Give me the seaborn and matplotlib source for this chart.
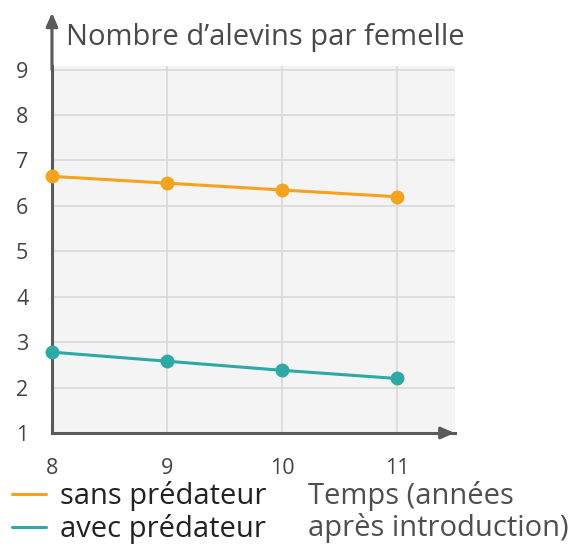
import matplotlib
matplotlib.use("Agg")
import matplotlib.pyplot as plt
import seaborn as sns
import pandas as pd
from matplotlib.lines import Line2D

years = [8, 9, 10, 11]
sans_predateur = [6.65, 6.5, 6.35, 6.2]
avec_predateur = [2.78, 2.58, 2.38, 2.2]
series_names = ["sans prédateur", "avec prédateur"]
colors = ["#F5A31C", "#2BAAA6"]
y_ticks = [1, 2, 3, 4, 5, 6, 7, 8, 9]

df = pd.DataFrame({
    "year": years * 2,
    "value": sans_predateur + avec_predateur,
    "serie": [series_names[0]] * 4 + [series_names[1]] * 4,
})

sns.set_style("white")
plt.rcParams["font.family"] = ["Open Sans", "DejaVu Sans"]

fig = plt.figure(figsize=(5.86, 5.47), dpi=100)
ax = fig.add_axes([0.0887, 0.2084, 0.687, 0.671])
ax.set_facecolor("#F4F4F4")

sns.lineplot(data=df, x="year", y="value", hue="serie", palette=colors,
             marker="o", markersize=10, markeredgewidth=0, linewidth=2.2,
             ax=ax, legend=False, clip_on=False, zorder=3)

ax.set_xlim(8, 11.5)
ax.set_ylim(1, 9.08)
ax.set_xticks(years)
ax.set_yticks(y_ticks)
ax.grid(True, color="#D9D9D9", linewidth=1.2)
ax.set_axisbelow(True)
ax.set_xlabel("")
ax.set_ylabel("")

axis_col = "#5A5A5A"
for s in ["top", "right"]:
    ax.spines[s].set_visible(False)
for s in ["left", "bottom"]:
    ax.spines[s].set_color(axis_col)
    ax.spines[s].set_linewidth(2.2)
ax.tick_params(axis="both", direction="out", length=11, width=1.2,
               color="#9A9A9A", labelsize=15.5, labelcolor="#444444")
ax.tick_params(axis="y", pad=6)
ax.tick_params(axis="x", pad=7)

# axis arrows
ax.annotate("", xy=(0, 1.145), xytext=(0, 0.99), xycoords="axes fraction",
            arrowprops=dict(arrowstyle="-|>,head_length=0.8,head_width=0.35",
                            color=axis_col, lw=2.2, shrinkA=0, shrinkB=0),
            annotation_clip=False)
ax.annotate("", xy=(1.0, 0), xytext=(0.97, 0), xycoords="axes fraction",
            arrowprops=dict(arrowstyle="-|>,head_length=0.8,head_width=0.35",
                            color=axis_col, lw=2.2, shrinkA=0, shrinkB=0),
            annotation_clip=False)

fig.text(66 / 586, 1 - 38 / 547, "Nombre d\u2019alevins par femelle",
         fontsize=21, color="#4A4A4A", va="center", ha="left")

fig.text(308 / 586, 1 - 496 / 547, "Temps (années", fontsize=21,
         color="#4F4F4F", va="center", ha="left")
fig.text(308 / 586, 1 - 528 / 547, "après introduction)", fontsize=21,
         color="#4F4F4F", va="center", ha="left")

handles = [Line2D([0], [0], color=c, lw=2.2) for c in colors]
fig.legend(handles, series_names, loc="upper left",
           bbox_to_anchor=(12 / 586, 1 - 481 / 547), frameon=False,
           fontsize=21, handlelength=1.15, handletextpad=0.5,
           labelspacing=0.1, borderaxespad=0, borderpad=0,
           labelcolor="#222222")

fig.savefig("out.png", dpi=100)
